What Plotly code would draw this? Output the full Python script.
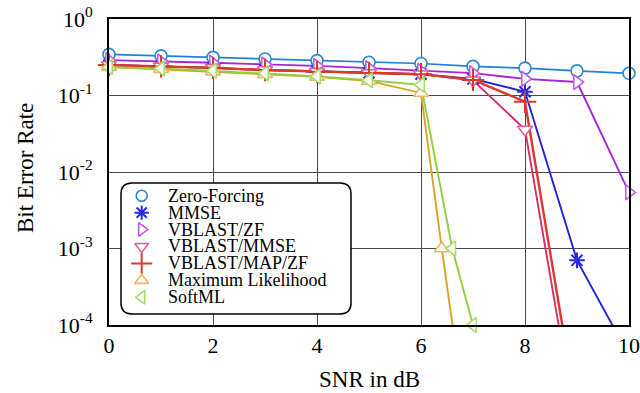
import plotly.graph_objects as go

# ---- data ----
snr = [0, 1, 2, 3, 4, 5, 6, 7, 8, 9, 10]
zf = [0.345, 0.33, 0.315, 0.30, 0.286, 0.272, 0.262, 0.24, 0.228, 0.21, 0.195]
mmse = [0.25, 0.24, 0.23, 0.215, 0.205, 0.197, 0.19, 0.165, 0.112, 7.0e-4, 4.0e-5]
vblast_zf = [0.29, 0.28, 0.268, 0.255, 0.244, 0.228, 0.21, 0.196, 0.165, 0.15, 0.0054]
snr_v = [0, 1, 2, 3, 4, 5, 6, 7, 8, 9]
vblast_mmse = [0.25, 0.24, 0.23, 0.215, 0.205, 0.197, 0.19, 0.158, 0.036, 4e-6]
vblast_map = [0.25, 0.24, 0.23, 0.215, 0.205, 0.197, 0.19, 0.16, 0.083, 7e-6]
snr_ml = [0, 1, 2, 3, 4, 5, 6, 6.4, 7]
ml = [0.235, 0.22, 0.205, 0.19, 0.175, 0.155, 0.108, 1e-3, 1.2e-6]
snr_soft = [0, 1, 2, 3, 4, 5, 6, 6.6, 7]
softml = [0.235, 0.225, 0.21, 0.195, 0.178, 0.158, 0.138, 1e-3, 1e-4]

names = ["Zero-Forcing", "MMSE", "VBLAST/ZF", "VBLAST/MMSE", "VBLAST/MAP/ZF",
         "Maximum Likelihood", "SoftML"]
xs = [snr, snr, snr, snr_v, snr_v, snr_ml, snr_soft]
ys = [zf, mmse, vblast_zf, vblast_mmse, vblast_map, ml, softml]

y_tickvals = [1e-4, 1e-3, 1e-2, 1e-1, 1]
y_ticktext = ["10<sup>-4</sup>", "10<sup>-3</sup>", "10<sup>-2</sup>", "10<sup>-1</sup>", "10<sup>0</sup>"]
x_tickvals = [0, 2, 4, 6, 8, 10]
x_title = "SNR in dB"
y_title = "Bit Error Rate"

# ---- styles ----
line_colors = ["#1f7fd9", "#2222dd", "#a626d6", "#dc2a6a", "#d83a2e", "#d9a02a", "#8fd03c"]
mark_colors = ["#2a86dc", "#2a2ae0", "#c45ae8", "#ee5c9a", "#d83a2e", "#e6b860", "#a6dc66"]
symbols = ["circle", "asterisk-open", "triangle-right", "triangle-down", "cross-thin-open",
           "triangle-up", "triangle-left"]
sizes = [12, 13, 13, 13, 16, 13, 13]
lwidths = [1.7, 1.9, 1.9, 1.9, 2.4, 1.9, 1.9]

FONT = "Liberation Serif, Times New Roman, DejaVu Serif, serif"

def marker_style(i, size=None):
    open_sym = symbols[i].endswith("-open")
    return dict(
        symbol=symbols[i],
        size=size or sizes[i],
        color=mark_colors[i] if open_sym else "white",
        line=dict(color=mark_colors[i], width=1.6 if not open_sym else 2),
    )

fig = go.Figure()
for i in range(len(names)):
    fig.add_trace(go.Scatter(
        x=xs[i], y=ys[i], mode="lines", name=names[i],
        line=dict(color=line_colors[i], width=lwidths[i]),
        showlegend=False, hoverinfo="skip", cliponaxis=True,
    ))
for i in range(len(names)):
    fig.add_trace(go.Scatter(
        x=xs[i], y=ys[i], mode="markers", name=names[i],
        marker=marker_style(i), showlegend=False, cliponaxis=False,
    ))

# ---- legend drawn as an inset subplot ----
L, R, T, B = 121, 351, 183, 314   # px box
PL, PR, PT, PB = 109, 629, 19, 325  # plot area px

def xp(px):
    return (px - PL) / (PR - PL)

def yp(py):
    return (PB - py) / (PB - PT)

row0 = 195.7
step = 16.93
leg_x = [141.7 - L] * len(names)
leg_y = [(B - (row0 + step * i)) for i in range(len(names))]
for i in range(len(names)):
    fig.add_trace(go.Scatter(
        x=[leg_x[i]], y=[leg_y[i]], mode="markers", xaxis="x2", yaxis="y2",
        marker=marker_style(i, size=sizes[i] - 1), showlegend=False, hoverinfo="skip",
        cliponaxis=False,
    ))
    fig.add_annotation(
        x=167 - L, y=leg_y[i], xref="x2", yref="y2", text=names[i], showarrow=False,
        xanchor="left", yanchor="middle", borderpad=0,
        font=dict(family=FONT, size=18, color="black"),
    )

r = 11
path = (
    f"M {xp(L + r)},{yp(T)} L {xp(R - r)},{yp(T)} Q {xp(R)},{yp(T)} {xp(R)},{yp(T + r)} "
    f"L {xp(R)},{yp(B - r)} Q {xp(R)},{yp(B)} {xp(R - r)},{yp(B)} "
    f"L {xp(L + r)},{yp(B)} Q {xp(L)},{yp(B)} {xp(L)},{yp(B - r)} "
    f"L {xp(L)},{yp(T + r)} Q {xp(L)},{yp(T)} {xp(L + r)},{yp(T)} Z"
)
fig.add_shape(type="path", path=path, xref="paper", yref="paper", layer="above",
              line=dict(color="black", width=1.5), fillcolor="rgba(0,0,0,0)")

# axis titles
fig.add_annotation(x=xp(369), y=yp(379), xref="paper", yref="paper", text=x_title,
                   showarrow=False, xanchor="center", yanchor="middle",
                   font=dict(family=FONT, size=23, color="black"))
fig.add_annotation(x=xp(25), y=yp(168), xref="paper", yref="paper", text=y_title,
                   showarrow=False, xanchor="center", yanchor="middle", textangle=-90,
                   font=dict(family=FONT, size=23, color="black"))

grid = "#4a4a4a"
fig.update_layout(
    template="none",
    width=640, height=393,
    margin=dict(l=PL, r=640 - PR, t=PT, b=393 - PB, pad=0),
    paper_bgcolor="white", plot_bgcolor="white",
    font=dict(family=FONT, color="black"),
    showlegend=False,
    xaxis=dict(
        range=[0, 10], tickvals=x_tickvals, showgrid=True, gridcolor=grid, gridwidth=1.2,
        zeroline=False, showline=True, linecolor="black", linewidth=2, mirror=True,
        ticks="", tickfont=dict(family=FONT, size=22), automargin=False,
        ticklabelstandoff=0,
    ),
    yaxis=dict(
        type="log", range=[-4, 0], tickvals=y_tickvals, ticktext=y_ticktext,
        showgrid=True, gridcolor=grid, gridwidth=1.2,
        zeroline=False, showline=True, linecolor="black", linewidth=2, mirror=True,
        ticks="", tickfont=dict(family=FONT, size=22), automargin=False,
        ticklabelstandoff=10,
    ),
    xaxis2=dict(domain=[xp(L), xp(R)], range=[0, R - L], anchor="y2", visible=False,
                showgrid=False, zeroline=False),
    yaxis2=dict(domain=[yp(B), yp(T)], range=[0, B - T], anchor="x2", visible=False,
                showgrid=False, zeroline=False),
)

fig.write_html("out.html")
